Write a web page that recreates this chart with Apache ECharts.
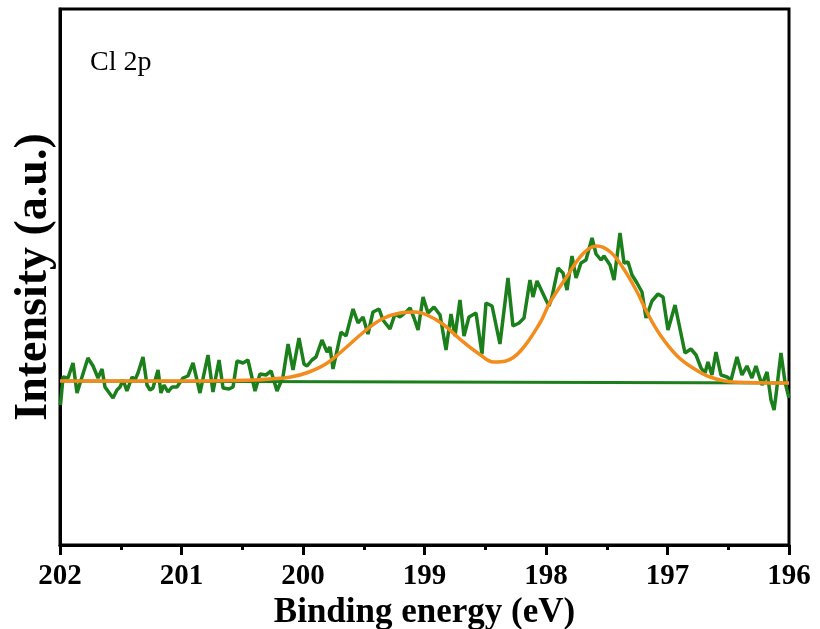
<!DOCTYPE html>
<html>
<head>
<meta charset="utf-8">
<script src="https://cdn.jsdelivr.net/npm/echarts@6/dist/echarts.min.js"></script>
<style>
  html, body { margin: 0; padding: 0; background: #fff; }
  #chart { width: 820px; height: 629px; }
</style>
</head>
<body>
<div id="chart"></div>
<script>
// Cl 2p XPS spectrum: measured counts, Shirley-type baseline and fitted envelope

// measured spectrum (binding energy in eV, intensity in a.u.)
const rawEnergy = [
  201.996, 201.975, 201.934, 201.893, 201.860, 201.819, 201.770, 201.728, 201.687, 201.654,
  201.630, 201.564, 201.531, 201.506, 201.481, 201.449, 201.407, 201.383, 201.358, 201.317,
  201.284, 201.259, 201.235, 201.193, 201.169, 201.144, 201.111, 201.078, 201.037, 200.988,
  200.947, 200.905, 200.848, 200.782, 200.741, 200.691, 200.658, 200.609, 200.576, 200.543,
  200.494, 200.453, 200.395, 200.354, 200.305, 200.263, 200.214, 200.165, 200.123, 200.082,
  200.033, 199.992, 199.967, 199.926, 199.893, 199.844, 199.802, 199.778, 199.753, 199.687,
  199.646, 199.588, 199.547, 199.506, 199.465, 199.424, 199.374, 199.342, 199.284, 199.243,
  199.202, 199.152, 199.119, 199.086, 199.053, 199.012, 198.971, 198.922, 198.872, 198.823,
  198.782, 198.749, 198.708, 198.675, 198.634, 198.576, 198.527, 198.494, 198.444, 198.379,
  198.313, 198.272, 198.222, 198.181, 198.132, 198.107, 198.074, 198.000, 197.975, 197.951,
  197.901, 197.860, 197.827, 197.786, 197.753, 197.712, 197.671, 197.621, 197.588, 197.547,
  197.523, 197.473, 197.440, 197.391, 197.358, 197.325, 197.292, 197.251, 197.210, 197.177,
  197.128, 197.078, 197.037, 196.996, 196.938, 196.856, 196.807, 196.765, 196.724, 196.691,
  196.667, 196.634, 196.601, 196.560, 196.510, 196.477, 196.428, 196.387, 196.346, 196.305,
  196.272, 196.222, 196.181, 196.148, 196.123, 196.107, 196.066, 196.033, 196.000
];
const rawIntensity = [
  140, 168, 167, 182, 152, 168, 187, 179, 167, 176,
  158, 147, 155, 158, 165, 154, 168, 165, 172, 188,
  160, 155, 157, 175, 152, 160, 153, 158, 158, 167,
  169, 182, 152, 190, 153, 185, 157, 156, 158, 184,
  182, 185, 154, 171, 170, 174, 154, 168, 201, 175,
  207, 181, 179, 185, 188, 205, 193, 198, 176, 213,
  209, 236, 222, 228, 211, 233, 236, 225, 216, 231,
  228, 233, 237, 227, 215, 248, 232, 238, 230, 195,
  231, 209, 245, 209, 228, 232, 191, 242, 239, 201,
  267, 219, 222, 227, 265, 248, 264, 245, 239, 248,
  277, 272, 255, 289, 267, 282, 285, 307, 291, 285,
  289, 280, 265, 312, 282, 283, 270, 262, 253, 227,
  244, 251, 248, 215, 240, 192, 196, 190, 177, 172,
  183, 170, 193, 170, 168, 165, 188, 170, 179, 167,
  179, 160, 173, 145, 135, 150, 192, 163, 147
];

// background line
const baseEnergy = [202, 196];
const baseIntensity = [164, 162];

// fitted envelope
const fitEnergy = [
  202.0, 201.0, 200.6, 200.4, 200.27, 200.1, 199.95, 199.8, 199.65, 199.5,
  199.35, 199.2, 199.08, 198.98, 198.85, 198.7, 198.55, 198.43, 198.33, 198.21,
  198.05, 197.97, 197.83, 197.69, 197.58, 197.47, 197.36, 197.25, 197.17, 197.06,
  196.92, 196.79, 196.65, 196.46, 196.0
];
const fitIntensity = [
  164, 164, 164.5, 165, 166, 168, 173, 182, 197, 213,
  226, 232, 233, 230, 221, 205, 191, 183, 184, 194,
  222, 242, 268, 292, 299, 293, 276, 253, 233, 210,
  189, 177, 168, 163, 162
];

// x-axis tick labels
const xTicks = [196, 197, 198, 199, 200, 201, 202];

const pairs = (xs, ys) => xs.map((x, i) => [x, ys[i]]);

const serif = '"Liberation Serif", "Times New Roman", serif';
const chart = echarts.init(document.getElementById('chart'), null, { renderer: 'canvas' });

chart.setOption({
  animation: false,
  backgroundColor: '#ffffff',
  title: {
    text: 'Cl 2p',
    left: 85,
    top: 44,
    textStyle: { fontFamily: serif, fontWeight: 'normal', fontSize: 28, color: '#000' }
  },
  grid: {
    left: 60, right: 31, top: 9, bottom: 84,
    outerBoundsMode: 'none',
    containLabel: false,
    show: true, borderColor: '#000', borderWidth: 3, backgroundColor: 'transparent'
  },
  xAxis: {
    type: 'value',
    inverse: true,
    min: xTicks[0],
    max: xTicks[xTicks.length - 1],
    interval: 1,
    name: 'Binding energy (eV)',
    nameLocation: 'middle',
    nameGap: 33,
    nameTextStyle: { fontFamily: serif, fontWeight: 'bold', fontSize: 35, color: '#000' },
    axisLine: { show: true, lineStyle: { color: '#000', width: 3 } },
    axisTick: { show: true, inside: false, length: 10, lineStyle: { color: '#000', width: 3 } },
    minorTick: { show: true, splitNumber: 2, length: 5, lineStyle: { color: '#000', width: 3 } },
    axisLabel: {
      margin: 17,
      fontFamily: serif, fontWeight: 'bold', fontSize: 29, color: '#000',
      formatter: v => xTicks.includes(v) ? String(v) : ''
    },
    splitLine: { show: false }
  },
  yAxis: {
    type: 'value',
    min: 0,
    max: 536,
    name: 'Intensity (a.u.)',
    nameLocation: 'middle',
    nameRotate: 90,
    nameGap: 3,
    nameTextStyle: { fontFamily: serif, fontWeight: 'bold', fontSize: 46, color: '#000' },
    axisLine: { show: true, lineStyle: { color: '#000', width: 3 } },
    axisTick: { show: false },
    axisLabel: { show: false },
    splitLine: { show: false }
  },
  series: [
    {
      name: 'Background',
      type: 'line',
      data: pairs(baseEnergy, baseIntensity),
      showSymbol: false,
      lineStyle: { color: '#1b7f1b', width: 3 },
      z: 2
    },
    {
      name: 'Raw',
      type: 'line',
      data: pairs(rawEnergy, rawIntensity),
      showSymbol: false,
      lineStyle: { color: '#1b7f1b', width: 3.5 },
      z: 3
    },
    {
      name: 'Fit',
      type: 'line',
      data: pairs(fitEnergy, fitIntensity),
      smooth: 0.4,
      showSymbol: false,
      lineStyle: { color: '#f28c1c', width: 3.5 },
      z: 4
    }
  ]
});
</script>
</body>
</html>
